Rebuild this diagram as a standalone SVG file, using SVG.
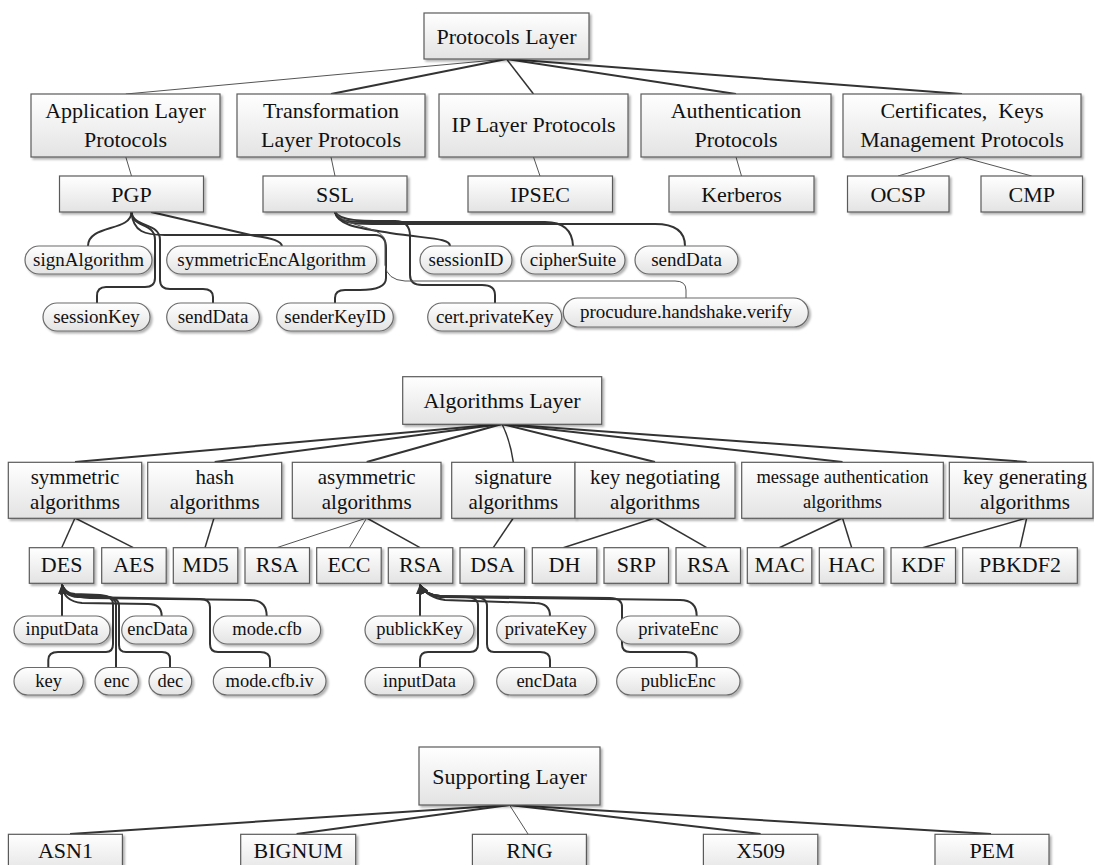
<svg xmlns="http://www.w3.org/2000/svg" width="1094" height="865" viewBox="0 0 1094 865">
<defs>
<linearGradient id="g" x1="0" y1="0" x2="0" y2="1">
<stop offset="0" stop-color="#ffffff"/>
<stop offset="1" stop-color="#e3e3e3"/>
</linearGradient>
<filter id="sh" x="-5%" y="-10%" width="115%" height="145%">
<feDropShadow dx="2" dy="2" stdDeviation="1" flood-color="#000" flood-opacity="0.3"/>
</filter>
<marker id="arr" markerUnits="userSpaceOnUse" markerWidth="10" markerHeight="8" refX="9" refY="4" orient="auto">
<path d="M0,0 L10,4 L0,8 z" fill="#333"/>
</marker>
<style>
.box{fill:url(#g);stroke:#5a5a5a;stroke-width:1.2;filter:url(#sh)}
.pill{fill:url(#g);stroke:#6a6a6a;stroke-width:1.2;filter:url(#sh)}
text{font-family:"Liberation Serif","Times New Roman",serif;fill:#111;text-anchor:middle}
.f22{font-size:22px}
.f21{font-size:21px}
.f19{font-size:19px}
.f18{font-size:18.5px}
.pre{white-space:pre}
.c{fill:none;stroke:#333;stroke-width:2}
.c15{fill:none;stroke:#333;stroke-width:1.5}
.c1{fill:none;stroke:#555;stroke-width:1}
.a{marker-end:url(#arr)}
</style>
</defs>
<rect width="1094" height="865" fill="#fff"/>

<g id="connectors">
<!-- Protocols layer -->
<path class="c1" d="M506.5,59 L125.8,94"/>
<path class="c" d="M506.5,59 L331,94"/>
<path class="c15" d="M506.5,59 L533.5,94"/>
<path class="c" d="M506.5,59 L736,94"/>
<path class="c" d="M506.5,59 L962,94"/>
<path class="c1" d="M125.8,157 L131.5,176"/>
<path class="c1" d="M331,157 L335,176"/>
<path class="c1" d="M533.5,157 L540,176"/>
<path class="c1" d="M736,157 L741.5,176"/>
<path class="c1" d="M962,157 L898,176"/>
<path class="c1" d="M962,157 L1031.7,176"/>
<!-- PGP attributes -->
<path class="c" d="M131.5,212 C131.5,232 88,224 88,246"/>
<path class="c" d="M151,212 L255,236 Q281,239 282,246"/>
<path class="c" d="M131.5,212 C132,228 155,222 155,240 L155,278 Q155,287 145,287 L106,287 Q97,287 97,296 L97,303"/>
<path class="c" d="M131.5,212 C133,228 160,222 160,240 L160,280 Q160,289 170,289 L203,289 Q213,289 213,297 L213,303"/>
<path class="c" d="M131.5,212 C133,232 145,235 165,235 L375,235 Q386,235 386,248 L386,278 Q386,290 360,290 L345,290 Q335,290 335,298 L335,303"/>
<!-- SSL attributes -->
<path class="c" d="M335,212 C338,226 360,228 390,233 C430,239 450,238 450,246"/>
<path class="c" d="M335,212 C338,222 350,222 370,222 L545,222 Q572,222 573,246"/>
<path class="c" d="M335,212 C338,223 352,224 372,224 L655,224 Q685,224 685,246"/>
<path class="c" d="M335,212 C340,221 360,221 395,221 Q410,221 410,236 L410,275 Q410,285 422,285 L482,285 Q495,285 495,295 L495,304"/>
<path class="c1" d="M335,212 C345,228 380,225 385,240 L385,265 Q387,280 405,281 L675,281 Q686,281 686,290 L686,298"/>
<!-- Algorithms layer -->
<path class="c" d="M502,424 L75,462"/>
<path class="c" d="M502,424 L214.7,462"/>
<path class="c" d="M502,424 L366.7,462"/>
<path class="c15" d="M502,424 Q510,440 513.3,462"/>
<path class="c" d="M502,424 L655,462"/>
<path class="c" d="M502,424 L842.5,462"/>
<path class="c" d="M502,424 L1026.7,462"/>
<path class="c15" d="M75,518 L61.7,547.7"/>
<path class="c15" d="M75,518 L133.3,547.7"/>
<path class="c15" d="M214,518 L205,547.7"/>
<path class="c1" d="M366.7,518 L276.7,547.7"/>
<path class="c1" d="M366.7,518 L349.3,547.7"/>
<path class="c15" d="M366.7,518 L420,547.7"/>
<path class="c15" d="M513.3,518 L493.3,547.7"/>
<path class="c15" d="M655,518 L563.3,547.7"/>
<path class="c15" d="M655,518 L706.7,547.7"/>
<path class="c15" d="M842.5,518 L779.3,547.7"/>
<path class="c15" d="M842.5,518 L851.7,547.7"/>
<path class="c15" d="M1026.7,518 L922.7,547.7"/>
<path class="c15" d="M1026.7,518 L1020,547.7"/>
<!-- DES attributes -->
<path class="c a" d="M62,616 L62,585"/>
<path class="c a" d="M161.7,616 Q161.7,604 148,604 L82,603 C70,602 63,596 62,585"/>
<path class="c a" d="M266.7,616 Q266.7,600 250,600 L90,598 C75,597 65,594 62,585"/>
<path class="c a" d="M48.3,668 L48.3,660 Q48.3,652 58,652 L106,652 Q113,652 113,644 L113,604 Q113,596 100,595 L75,594 Q64,593 62,585"/>
<path class="c a" d="M116,668 L116,605 Q116,597 104,596 L75,595 Q64,594 62,585"/>
<path class="c a" d="M170,668 L170,659 Q170,652 162,652 L126,652 Q119,652 119,645 L119,606 Q119,597 106,597 L76,596 Q64,595 62,585"/>
<path class="c a" d="M270,668 L270,660 Q270,652 260,652 L218,652 Q210,652 210,644 L210,607 Q210,599 200,599 L78,597 Q64,596 62,585"/>
<!-- RSA attributes -->
<path class="c a" d="M420,616 L420,585"/>
<path class="c a" d="M550,616 Q550,603 535,603 L445,600 Q428,598 420,585"/>
<path class="c a" d="M696.7,616 Q696.7,600 680,600 L440,597 Q427,596 420,585"/>
<path class="c a" d="M420,667 L420,660 Q420,652 428,652 L470,652 Q478,652 478,644 L478,606 Q478,597 466,597 L440,596 Q425,595 420,585"/>
<path class="c a" d="M550,667 L550,660 Q550,652 540,652 L494,652 Q487,652 487,644 L487,606 Q487,597 474,597 L440,596 Q425,595 420,585"/>
<path class="c a" d="M696.7,667 L696.7,660 Q696.7,652 686,652 L630,652 Q622,652 622,644 L622,607 Q622,598 610,598 L440,596 Q425,595 420,585"/>
<!-- Supporting layer -->
<path class="c" d="M509.5,805 L70,834"/>
<path class="c" d="M509.5,805 L296.6,834"/>
<path class="c1" d="M509.5,805 L528,834"/>
<path class="c" d="M509.5,805 L760.6,834"/>
<path class="c" d="M509.5,805 L991,834"/>
</g>

<!-- Protocols layer nodes -->
<g id="protocols-layer"><rect class="box" x="424" y="13" width="165" height="46"/><text class="f22" x="506.5" y="44">Protocols Layer</text></g>
<g id="application-layer-protocols"><rect class="box" x="31" y="94" width="189" height="63"/><text class="f22" x="125.5" y="118">Application Layer</text><text class="f22" x="125.5" y="147">Protocols</text></g>
<g id="transformation-layer-protocols"><rect class="box" x="237" y="94" width="188" height="63"/><text class="f22" x="331" y="118">Transformation</text><text class="f22" x="331" y="147">Layer Protocols</text></g>
<g id="ip-layer-protocols"><rect class="box" x="439" y="94" width="189" height="63"/><text class="f22" x="533.5" y="132">IP Layer Protocols</text></g>
<g id="authentication-protocols"><rect class="box" x="641" y="94" width="190" height="63"/><text class="f22" x="736" y="118">Authentication</text><text class="f22" x="736" y="147">Protocols</text></g>
<g id="cert-keys-management-protocols"><rect class="box" x="843" y="94" width="238" height="63"/><text class="f22 pre" x="962" y="118">Certificates,  Keys</text><text class="f22" x="962" y="147">Management Protocols</text></g>

<g id="pgp"><rect class="box" x="59.5" y="176" width="144" height="36"/><text class="f22" x="131.5" y="202">PGP</text></g>
<g id="ssl"><rect class="box" x="263" y="176" width="144" height="36"/><text class="f22" x="335" y="202">SSL</text></g>
<g id="ipsec"><rect class="box" x="468" y="176" width="144.5" height="36"/><text class="f22" x="540" y="202">IPSEC</text></g>
<g id="kerberos"><rect class="box" x="669" y="176" width="145" height="36"/><text class="f22" x="741.5" y="202">Kerberos</text></g>
<g id="ocsp"><rect class="box" x="847.5" y="176" width="101.5" height="36"/><text class="f22" x="898" y="202">OCSP</text></g>
<g id="cmp"><rect class="box" x="981" y="176" width="101.5" height="36"/><text class="f22" x="1031.7" y="202">CMP</text></g>

<g id="pgp-signAlgorithm"><rect class="pill" x="25" y="246" width="127" height="28" rx="14"/><text class="f19" x="88.5" y="266">signAlgorithm</text></g>
<g id="pgp-symmetricEncAlgorithm"><rect class="pill" x="166.7" y="246" width="210" height="28" rx="14"/><text class="f19" x="271.7" y="266">symmetricEncAlgorithm</text></g>
<g id="ssl-sessionID"><rect class="pill" x="420" y="246" width="92" height="28" rx="14"/><text class="f19" x="466" y="266">sessionID</text></g>
<g id="ssl-cipherSuite"><rect class="pill" x="521" y="246" width="104" height="28" rx="14"/><text class="f19" x="573" y="266">cipherSuite</text></g>
<g id="ssl-sendData"><rect class="pill" x="635" y="246" width="103" height="28" rx="14"/><text class="f19" x="686.5" y="266">sendData</text></g>
<g id="pgp-sessionKey"><rect class="pill" x="43" y="303" width="107" height="28" rx="14"/><text class="f19" x="96.5" y="323">sessionKey</text></g>
<g id="pgp-sendData"><rect class="pill" x="166.7" y="303" width="92.6" height="28" rx="14"/><text class="f19" x="213" y="323">sendData</text></g>
<g id="pgp-senderKeyID"><rect class="pill" x="276.7" y="303" width="116.6" height="28" rx="14"/><text class="f19" x="335" y="323">senderKeyID</text></g>
<g id="ssl-cert-privateKey"><rect class="pill" x="427.7" y="303" width="134" height="28" rx="14"/><text class="f19" x="494.7" y="323">cert.privateKey</text></g>
<g id="ssl-procudure-handshake-verify"><rect class="pill" x="563.3" y="298" width="245" height="29" rx="14.5"/><text class="f19" x="686" y="318">procudure.handshake.verify</text></g>

<!-- Algorithms layer nodes -->
<g id="algorithms-layer"><rect class="box" x="402.7" y="376.7" width="199" height="47.6"/><text class="f22" x="502" y="408">Algorithms Layer</text></g>
<g id="symmetric-algorithms"><rect class="box" x="8.3" y="462.3" width="133.4" height="56"/><text class="f21" x="75" y="483.5">symmetric</text><text class="f21" x="75" y="508.5">algorithms</text></g>
<g id="hash-algorithms"><rect class="box" x="147.7" y="462.3" width="134" height="56"/><text class="f21" x="214.7" y="483.5">hash</text><text class="f21" x="214.7" y="508.5">algorithms</text></g>
<g id="asymmetric-algorithms"><rect class="box" x="292.3" y="462.3" width="148.7" height="56"/><text class="f21" x="366.7" y="483.5">asymmetric</text><text class="f21" x="366.7" y="508.5">algorithms</text></g>
<g id="signature-algorithms"><rect class="box" x="451.7" y="462.3" width="123.3" height="56"/><text class="f21" x="513.3" y="483.5">signature</text><text class="f21" x="513.3" y="508.5">algorithms</text></g>
<g id="key-negotiating-algorithms"><rect class="box" x="575" y="462.3" width="160" height="56"/><text class="f21" x="655" y="483.5">key negotiating</text><text class="f21" x="655" y="508.5">algorithms</text></g>
<g id="message-authentication-algorithms"><rect class="box" x="741.7" y="462.3" width="201.6" height="56"/><text class="f18" x="842.5" y="483">message authentication</text><text class="f18" x="842.5" y="508">algorithms</text></g>
<g id="key-generating-algorithms"><rect class="box" x="949.3" y="462.3" width="143.7" height="56"/><text class="f21" x="1025" y="483.5">key generating</text><text class="f21" x="1025" y="508.5">algorithms</text></g>

<g id="des"><rect class="box" x="29.3" y="547.7" width="64.5" height="35.6"/><text class="f22" x="61.6" y="572">DES</text></g>
<g id="aes"><rect class="box" x="101.7" y="547.7" width="64.5" height="35.6"/><text class="f22" x="134" y="572">AES</text></g>
<g id="md5"><rect class="box" x="173.3" y="547.7" width="64.5" height="35.6"/><text class="f22" x="205.6" y="572">MD5</text></g>
<g id="rsa-1"><rect class="box" x="245" y="547.7" width="64.5" height="35.6"/><text class="f22" x="277.2" y="572">RSA</text></g>
<g id="ecc"><rect class="box" x="316.7" y="547.7" width="64.5" height="35.6"/><text class="f22" x="349" y="572">ECC</text></g>
<g id="rsa-2"><rect class="box" x="388.3" y="547.7" width="64.5" height="35.6"/><text class="f22" x="420.5" y="572">RSA</text></g>
<g id="dsa"><rect class="box" x="460" y="547.7" width="64.5" height="35.6"/><text class="f22" x="492.3" y="572">DSA</text></g>
<g id="dh"><rect class="box" x="532.3" y="547.7" width="64.5" height="35.6"/><text class="f22" x="564.5" y="572">DH</text></g>
<g id="srp"><rect class="box" x="604" y="547.7" width="64.5" height="35.6"/><text class="f22" x="636.3" y="572">SRP</text></g>
<g id="rsa-3"><rect class="box" x="676" y="547.7" width="64.5" height="35.6"/><text class="f22" x="708.3" y="572">RSA</text></g>
<g id="mac"><rect class="box" x="747.3" y="547.7" width="64.5" height="35.6"/><text class="f22" x="779.5" y="572">MAC</text></g>
<g id="hac"><rect class="box" x="819.3" y="547.7" width="64.5" height="35.6"/><text class="f22" x="851.6" y="572">HAC</text></g>
<g id="kdf"><rect class="box" x="891" y="547.7" width="64.5" height="35.6"/><text class="f22" x="923.2" y="572">KDF</text></g>
<g id="pbkdf2"><rect class="box" x="962.7" y="547.7" width="114.6" height="35.6"/><text class="f22" x="1020" y="572">PBKDF2</text></g>

<g id="des-inputData"><rect class="pill" x="14" y="616" width="96" height="28" rx="14"/><text class="f18" x="62" y="635">inputData</text></g>
<g id="des-encData"><rect class="pill" x="121.7" y="616" width="71.6" height="28" rx="14"/><text class="f18" x="157.5" y="635">encData</text></g>
<g id="des-mode-cfb"><rect class="pill" x="213.3" y="616" width="107.4" height="28" rx="14"/><text class="f18" x="267" y="635">mode.cfb</text></g>
<g id="des-key"><rect class="pill" x="14" y="667.5" width="69.3" height="27.5" rx="13.75"/><text class="f18" x="48.7" y="687">key</text></g>
<g id="des-enc"><rect class="pill" x="95" y="667.5" width="43.3" height="27.5" rx="13.75"/><text class="f18" x="116.7" y="687">enc</text></g>
<g id="des-dec"><rect class="pill" x="149" y="667.5" width="42.7" height="27.5" rx="13.75"/><text class="f18" x="170.3" y="687">dec</text></g>
<g id="des-mode-cfb-iv"><rect class="pill" x="213.3" y="667.5" width="112.7" height="27.5" rx="13.75"/><text class="f18" x="269.7" y="687">mode.cfb.iv</text></g>
<g id="rsa-publickKey"><rect class="pill" x="365" y="616" width="109" height="28" rx="14"/><text class="f18" x="419.5" y="635">publickKey</text></g>
<g id="rsa-privateKey"><rect class="pill" x="496.7" y="616" width="98.3" height="28" rx="14"/><text class="f18" x="545.8" y="635">privateKey</text></g>
<g id="rsa-privateEnc"><rect class="pill" x="616.7" y="616" width="123.3" height="28" rx="14"/><text class="f18" x="678.3" y="635">privateEnc</text></g>
<g id="rsa-inputData"><rect class="pill" x="365" y="667.5" width="109" height="27.5" rx="13.75"/><text class="f18" x="419.5" y="687">inputData</text></g>
<g id="rsa-encData"><rect class="pill" x="496.7" y="667.5" width="100" height="27.5" rx="13.75"/><text class="f18" x="546.7" y="687">encData</text></g>
<g id="rsa-publicEnc"><rect class="pill" x="616.7" y="667.5" width="123.3" height="27.5" rx="13.75"/><text class="f18" x="678.3" y="687">publicEnc</text></g>

<!-- Supporting layer nodes -->
<g id="supporting-layer"><rect class="box" x="419" y="747" width="181" height="58"/><text class="f22" x="509.5" y="784">Supporting Layer</text></g>
<g id="asn1"><rect class="box" x="8.4" y="834.3" width="114" height="40"/><text class="f22" x="65.4" y="858">ASN1</text></g>
<g id="bignum"><rect class="box" x="240.7" y="834.3" width="115" height="40"/><text class="f22" x="298.2" y="858">BIGNUM</text></g>
<g id="rng"><rect class="box" x="472.4" y="834.3" width="114" height="40"/><text class="f22" x="529.4" y="858">RNG</text></g>
<g id="x509"><rect class="box" x="703.4" y="834.3" width="114.4" height="40"/><text class="f22" x="760.6" y="858">X509</text></g>
<g id="pem"><rect class="box" x="935" y="834.3" width="114" height="40"/><text class="f22" x="992" y="858">PEM</text></g>
</svg>
